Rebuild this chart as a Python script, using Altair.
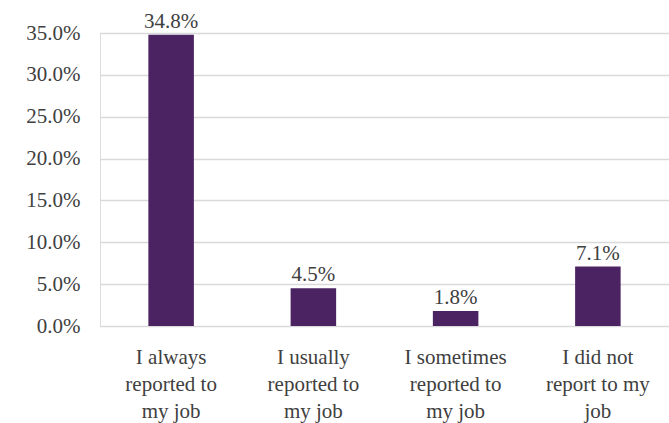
import altair as alt
import pandas as pd

categories = ["I always|reported to|my job", "I usually|reported to|my job",
              "I sometimes|reported to|my job", "I did not|report to my|job"]
values = [0.348, 0.045, 0.018, 0.071]

df = pd.DataFrame({"cat": categories, "val": values})

TXT = "#404040"
SERIF = "'Liberation Serif', 'DejaVu Serif', 'Times New Roman', serif"
x = alt.X("cat:N", sort=categories, title=None,
          scale=alt.Scale(paddingInner=0.68, paddingOuter=0.34),
          axis=alt.Axis(labelExpr="split(datum.label, '|')", labelAngle=0,
                        labelFont=SERIF, labelFontSize=21,
                        labelColor=TXT, labelLineHeight=27, labelPadding=20,
                        domain=False, ticks=False, labelBaseline="top"))
y = alt.Y("val:Q", title=None,
          scale=alt.Scale(domain=[0, 0.35], nice=False),
          axis=alt.Axis(format=".1%", values=[0, 0.05, 0.1, 0.15, 0.2, 0.25, 0.3, 0.35],
                        labelFont=SERIF, labelFontSize=21, labelColor=TXT,
                        labelPadding=20, domain=False, ticks=False,
                        gridColor="#d9d9d9", gridWidth=1.5))

bars = alt.Chart(df).mark_bar(color="#4B2363").encode(x=x, y=y)
labels = alt.Chart(df).mark_text(baseline="bottom", dy=-3, font=SERIF,
                                 fontSize=21, color=TXT).encode(
    x=x, y=y, text=alt.Text("val:Q", format=".1%"))

chart = (bars + labels).properties(
    width=569, height=293,
    autosize=alt.AutoSizeParams(type="none"),
    padding={"left": 100, "top": 33, "right": 0, "bottom": 97},
).configure_view(stroke=None).configure(background="white")

chart.save("out.html", embed_options={"renderer": "svg", "actions": False})
